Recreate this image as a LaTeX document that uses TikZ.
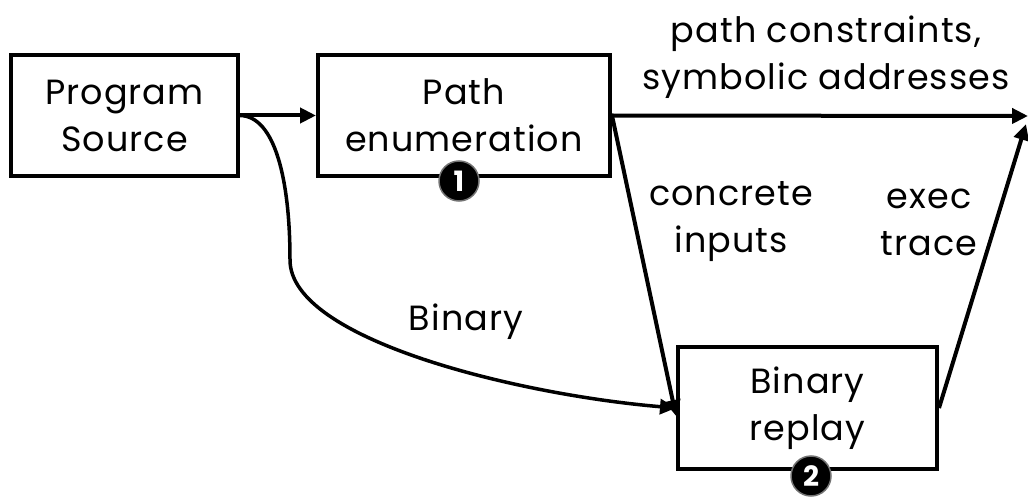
\documentclass[tikz,border=0pt]{standalone}
\usepackage{fontspec}
\setmainfont{Poppins}[LetterSpace=3]
\usetikzlibrary{arrows.meta}
\newcommand{\lblfont}{\fontsize{35}{47}\selectfont}
\begin{document}
\begin{tikzpicture}[x=1pt,y=-1pt,
  box/.style={draw, line width=4pt, align=center, inner sep=0pt, font=\lblfont},
  lbl/.style={align=center, inner sep=0pt, font=\lblfont},
  badge/.style={circle, fill=black, draw=black!55, line width=1.5pt, minimum size=40pt,
    inner sep=0pt, text=white, font=\bfseries\fontsize{28}{28}\selectfont},
  arr/.style={line width=4pt, -{Triangle[length=16pt,width=15pt]}}]
\useasboundingbox (0,0) rectangle (1028,497);

% processing stages
\node[box, minimum width=227pt, minimum height=121pt] (ps) at (124.5,115.5) {Program\\Source};
\node[box, minimum width=292pt, minimum height=121pt] (pe) at (464,115.5) {Path\\enumeration};
\node[box, minimum width=259pt, minimum height=122pt] (br) at (807.5,408) {Binary\\replay};

% step markers
\node[badge] (n1) at (459,181) {1};
\node[badge] (n2) at (811,476) {2};

% free ends on the right edge
\coordinate (out) at (1028,116);
\coordinate (back) at (1026,124);

% connectors
\draw[arr] (ps.east) -- (pe.west);
\draw[arr, line width=3.5pt] (ps.east) .. controls (275,116) and (290,180) .. (290,260)
  .. controls (290,340) and (520,395) .. (br.west);
\draw[arr] (pe.east) -- (out);
\draw[arr] (pe.east) -- ([yshift=-8pt]br.west);
\draw[arr] (br.east) -- (back);

% flow labels
\node[lbl] (lpc) at (826,57) {path constraints,\\symbolic addresses};
\node[lbl] (lci) at (731,222) {concrete\\inputs};
\node[lbl] (let) at (929,222) {exec\\trace};
\node[lbl] (lbin) at (466,322) {Binary};
\end{tikzpicture}
\end{document}
